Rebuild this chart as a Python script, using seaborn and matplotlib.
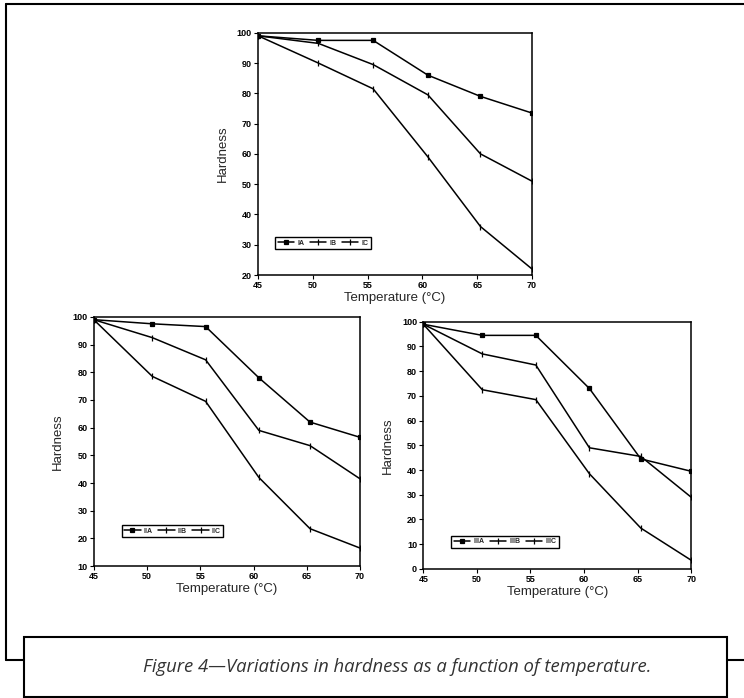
import pandas as pd
import seaborn as sns
from matplotlib import pyplot as plt
from matplotlib.lines import Line2D
from matplotlib.patches import Rectangle

# temperatures where hardness was measured
temperature = [45, 50.5, 55.5, 60.5, 65.3, 70]

# series I (top panel)
hard_IA = [99, 97.5, 97.5, 86, 79, 73.5]
hard_IB = [99, 96.5, 89.5, 79.5, 60, 51]
hard_IC = [99, 90, 81.5, 59, 36, 22]

# series II (bottom left)
hard_IIA = [99, 97.5, 96.5, 78, 62, 56.5]
hard_IIB = [99, 92.5, 84.5, 59, 53.5, 41.5]
hard_IIC = [99, 78.5, 69.5, 42, 23.5, 16.5]

# series III (bottom right)
hard_IIIA = [99, 94.5, 94.5, 73, 44.5, 39.5]
hard_IIIB = [99, 87, 82.5, 49, 45.5, 29]
hard_IIIC = [99, 72.5, 68.5, 38.5, 16.5, 3.5]

x_ticks = [45, 50, 55, 60, 65, 70]

sns.set_theme(style="ticks")
plt.rcParams['font.family'] = ['Liberation Sans', 'DejaVu Sans']


def draw_panel(ax, names, series, ylim, yticks, leg_anchor):
    marks = ['s', '|', '|']
    for name, vals, m in zip(names, series, marks):
        df = pd.DataFrame({'Temperature': temperature, 'Hardness': vals})
        sns.lineplot(data=df, x='Temperature', y='Hardness', color='black',
                     marker=m, linewidth=1.1, markersize=3.5 if m == 's' else 4,
                     markeredgewidth=0.9, markeredgecolor='black', ax=ax, label=name)
    ax.set_xlim(45, 70)
    ax.set_ylim(*ylim)
    ax.set_xticks(x_ticks)
    ax.set_yticks(yticks)
    ax.set_xticklabels([str(v) for v in x_ticks], fontsize=6.5, fontweight='bold')
    ax.set_yticklabels([str(v) for v in yticks], fontsize=6.5, fontweight='bold')
    ax.tick_params(direction='out', length=3, width=0.8, pad=1.5, colors='black')
    for s in ax.spines.values():
        s.set_visible(True)
        s.set_linewidth(1.1)
        s.set_color('black')
    ax.set_xlabel('Temperature (°C)', fontsize=9.5, labelpad=1)
    ax.set_ylabel('Hardness', fontsize=9.5, labelpad=6)
    leg = ax.legend(loc='lower left', bbox_to_anchor=leg_anchor,
                    ncol=3, frameon=True, fancybox=False, edgecolor='black',
                    prop={'size': 5, 'weight': 'bold'}, handlelength=2.4,
                    columnspacing=0.8, handletextpad=0.4, borderpad=0.35,
                    borderaxespad=0, framealpha=1)
    leg.get_frame().set_linewidth(1.0)


fig = plt.figure(figsize=(7.44, 6.98), dpi=100)
fig.patch.set_facecolor('white')

ax_top = fig.add_axes([0.347, 0.606, 0.368, 0.347])
ax_bl = fig.add_axes([0.126, 0.189, 0.358, 0.357])
ax_br = fig.add_axes([0.569, 0.185, 0.360, 0.354])

draw_panel(ax_top, ['IA', 'IB', 'IC'], [hard_IA, hard_IB, hard_IC],
           (20, 100), list(range(20, 101, 10)), (0.062, 0.107))
draw_panel(ax_bl, ['IIA', 'IIB', 'IIC'], [hard_IIA, hard_IIB, hard_IIC],
           (10, 100), list(range(10, 101, 10)), (0.105, 0.116))
draw_panel(ax_br, ['IIIA', 'IIIB', 'IIIC'], [hard_IIIA, hard_IIIB, hard_IIIC],
           (0, 100), list(range(0, 101, 10)), (0.104, 0.085))

# outer frame lines
W, H = 744, 698
frame_kw = dict(transform=fig.transFigure, color='black', lw=1.5)
fig.add_artist(Line2D([6 / W, 1.0], [1 - 4 / H, 1 - 4 / H], **frame_kw))
fig.add_artist(Line2D([6 / W, 6 / W], [1 - 4 / H, 1 - 660 / H], **frame_kw))
fig.add_artist(Line2D([6 / W, 24 / W], [1 - 660 / H, 1 - 660 / H], **frame_kw))
fig.add_artist(Line2D([727 / W, 1.0], [1 - 660 / H, 1 - 660 / H], **frame_kw))

# caption box
fig.add_artist(Rectangle((24 / W, 1 - 697 / H), (727 - 24) / W, (697 - 637) / H,
                         transform=fig.transFigure, fill=True, facecolor='white',
                         edgecolor='black', lw=1.5))
fig.text(0.5 * (142 + 653) / W, 1 - 667 / H,
         'Figure 4—Variations in hardness as a function of temperature.',
         ha='center', va='center', fontsize=13.3, style='italic', color='#333333',
         family=['Open Sans', 'DejaVu Sans'])

fig.savefig('out.png', dpi=100)
